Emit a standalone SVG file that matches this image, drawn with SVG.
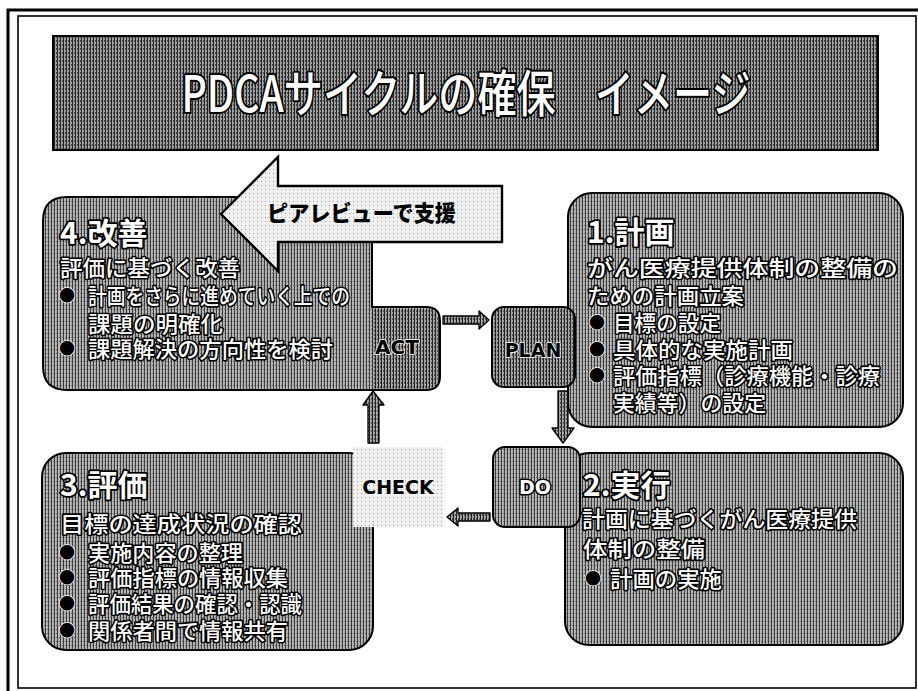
<svg xmlns="http://www.w3.org/2000/svg" width="918" height="691" viewBox="0 0 918 691">
<defs>
<pattern id="texBox" width="3" height="4" patternUnits="userSpaceOnUse">
<rect width="3" height="4" fill="#b4b4b4"/>
<rect x="0" width="1" height="4" fill="#3c3c3c"/>
<rect x="2" y="1" width="1" height="1" fill="#6a6a6a"/>
</pattern>
<pattern id="texDark" width="3" height="4" patternUnits="userSpaceOnUse">
<rect width="3" height="4" fill="#a4a4a4"/>
<rect x="0" width="1" height="4" fill="#222"/>
<rect x="2" y="2" width="1" height="2" fill="#555"/>
</pattern>
<pattern id="texBanner" width="3" height="4" patternUnits="userSpaceOnUse">
<rect width="3" height="4" fill="#a0a0a0"/>
<rect x="0" width="1" height="4" fill="#262626"/>
<rect x="2" y="0" width="1" height="2" fill="#4a4a4a"/>
</pattern>
<pattern id="texLight" width="4" height="4" patternUnits="userSpaceOnUse">
<rect width="4" height="4" fill="#f2f2f2"/>
<rect x="1" y="1" width="1" height="1" fill="#9a9a9a"/>
</pattern>
</defs>
<style>
.frame{fill:none;stroke:#000}
.box{fill:url(#texBox);stroke:#000;stroke-width:2}
.tab{fill:url(#texDark);stroke:#000;stroke-width:2}
.conn{fill:url(#texDark);stroke:#000;stroke-width:1.3;stroke-linejoin:round}
.w{font-family:"Noto Sans CJK JP","Noto Sans CJK SC",sans-serif;fill:#fff;stroke:#000;stroke-width:3.2;paint-order:stroke;stroke-linejoin:round;font-weight:500;font-size:22px}
.h{font-weight:700;font-size:30px;stroke-width:3.6}
.lab{font-family:"DejaVu Sans",sans-serif;font-weight:700;font-size:19px;fill:#000}
.bul{font-family:"Noto Sans CJK JP",sans-serif;font-size:16px;fill:#000;stroke:#fff;stroke-width:1.5;paint-order:stroke}
</style>
<rect width="918" height="691" fill="#fff"/>
<!-- frame -->
<path class="frame" d="M8,691 V10 H918" stroke-width="3"/>
<rect class="frame" x="18" y="16" width="898" height="672" stroke-width="1.6"/>

<!-- title banner -->
<g id="title">
<rect x="53" y="36" width="825" height="114" fill="url(#texBanner)" stroke="#000" stroke-width="2"/>
<text x="466" y="112" text-anchor="middle" textLength="569" lengthAdjust="spacingAndGlyphs" style="font-family:'Noto Sans CJK JP',sans-serif;font-size:50px;font-weight:500;fill:#fff;stroke:#000;stroke-width:4;paint-order:stroke;stroke-linejoin:round">PDCAサイクルの確保　イメージ</text>
</g>

<!-- 3 evaluation -->
<g id="node-check-box">
<rect class="box" x="42" y="453" width="331" height="197" rx="24"/>
<text class="w h" x="60" y="496">3.評価</text>
<text class="w" x="60" y="532" textLength="242" lengthAdjust="spacingAndGlyphs">目標の達成状況の確認</text>
<text class="bul" x="59" y="558">●</text><text class="w" x="88" y="561" textLength="155" lengthAdjust="spacingAndGlyphs">実施内容の整理</text>
<text class="bul" x="59" y="583">●</text><text class="w" x="88" y="586" textLength="200" lengthAdjust="spacingAndGlyphs">評価指標の情報収集</text>
<text class="bul" x="59" y="609">●</text><text class="w" x="88" y="612" textLength="214" lengthAdjust="spacingAndGlyphs">評価結果の確認・認識</text>
<text class="bul" x="59" y="636">●</text><text class="w" x="88" y="639" textLength="200" lengthAdjust="spacingAndGlyphs">関係者間で情報共有</text>
</g>
<g id="node-check">
<rect x="353" y="447" width="90" height="80" fill="url(#texLight)"/>
<text class="lab" x="398" y="494" text-anchor="middle">CHECK</text>
</g>

<!-- 4 improvement -->
<g id="node-act">
<path class="box" d="M67,197 H348 Q372,197 372,221 V307 H426 Q440,307 440,321 V376 Q440,390 426,390 H67 Q43,390 43,366 V221 Q43,197 67,197 Z"/>
<path d="M372,309 H426 Q438,309 438,321 V376 Q438,388 426,388 H373 Z" fill="url(#texDark)"/>
<text class="w h" x="60" y="244">4.改善</text>
<text class="w" x="60" y="276" textLength="180" lengthAdjust="spacingAndGlyphs">評価に基づく改善</text>
<text class="bul" x="59" y="301">●</text><text class="w" x="88" y="304" textLength="262" lengthAdjust="spacingAndGlyphs">計画をさらに進めていく上での</text>
<text class="w" x="88" y="332" textLength="135" lengthAdjust="spacingAndGlyphs">課題の明確化</text>
<text class="bul" x="59" y="354">●</text><text class="w" x="88" y="357" textLength="245" lengthAdjust="spacingAndGlyphs">課題解決の方向性を検討</text>
<text class="lab" x="397" y="354" text-anchor="middle" style="font-size:20px;stroke:#fff;stroke-width:1.5;paint-order:stroke">ACT</text>
</g>

<!-- peer review arrow -->
<g id="peer-review">
<path d="M221,214 L278,157 V186 H502 V242 H278 V271 Z" fill="url(#texLight)" stroke="#000" stroke-width="2.4" stroke-linejoin="miter"/>
<text x="267" y="221" textLength="189" lengthAdjust="spacingAndGlyphs" style="font-family:'Noto Sans CJK JP',sans-serif;font-weight:900;font-size:22px;fill:#000">ピアレビューで支援</text>
</g>

<!-- 1 plan -->
<g id="node-plan-box">
<rect class="box" x="568" y="193" width="335" height="234" rx="24"/>
<text class="w h" x="587" y="243">1.計画</text>
<text class="w" x="587" y="276" textLength="311" lengthAdjust="spacingAndGlyphs">がん医療提供体制の整備の</text>
<text class="w" x="587" y="304" textLength="157" lengthAdjust="spacingAndGlyphs">ための計画立案</text>
<text class="bul" x="589" y="328">●</text><text class="w" x="613" y="331" textLength="108" lengthAdjust="spacingAndGlyphs">目標の設定</text>
<text class="bul" x="589" y="355">●</text><text class="w" x="613" y="358" textLength="180" lengthAdjust="spacingAndGlyphs">具体的な実施計画</text>
<text class="bul" x="589" y="381">●</text><text class="w" x="613" y="384" textLength="267" lengthAdjust="spacingAndGlyphs">評価指標（診療機能・診療</text>
<text class="w" x="613" y="411" textLength="153" lengthAdjust="spacingAndGlyphs">実績等）の設定</text>
</g>
<g id="node-plan">
<rect class="tab" x="492" y="307" width="83" height="80" rx="12"/>
<text class="lab" x="533" y="357" text-anchor="middle" style="font-size:19px;stroke:#fff;stroke-width:1.5;paint-order:stroke">PLAN</text>
</g>

<!-- 2 do -->
<g id="node-do-box">
<rect class="box" x="565" y="453" width="338" height="192" rx="24"/>
<text class="w h" x="583" y="496">2.実行</text>
<text class="w" x="582" y="527" textLength="275" lengthAdjust="spacingAndGlyphs">計画に基づくがん医療提供</text>
<text class="w" x="583" y="557" textLength="122" lengthAdjust="spacingAndGlyphs">体制の整備</text>
<text class="bul" x="585" y="584">●</text><text class="w" x="610" y="587" textLength="112" lengthAdjust="spacingAndGlyphs">計画の実施</text>
</g>
<g id="node-do">
<rect class="box" x="493" y="447" width="87" height="80" rx="12"/>
<text class="w" x="535" y="494" text-anchor="middle" style="font-family:'DejaVu Sans',sans-serif;font-weight:700;font-size:19px;stroke-width:3">DO</text>
</g>

<!-- connectors -->
<g id="connectors">
<path class="conn" d="M443,316 H479 V311 L489,320 L479,329 V324 H443 Z"/>
<path class="conn" d="M558,391 H568 V428 H574 L563,443 L552,428 H558 Z"/>
<path class="conn" d="M490,513 H458 V508 L447,517 L458,526 V521 H490 Z"/>
<path class="conn" d="M368,443 V405 H363 L373,391 L384,405 H379 V443 Z"/>
</g>
</svg>
